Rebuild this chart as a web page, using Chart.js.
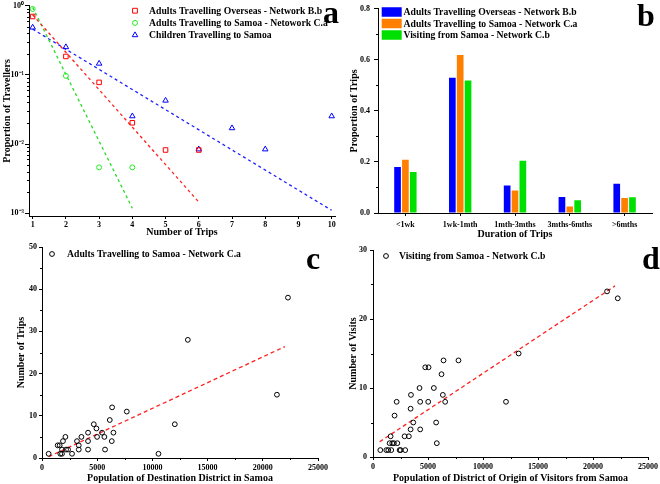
<!DOCTYPE html>
<html lang="en">
<head>
<meta charset="UTF-8">
<title>Travel to and from Samoa</title>
<style>
    body { margin: 0; background: #fff; }
    .panel { position: absolute; }
</style>
</head>
<body>
<canvas id="chartA" class="panel" style="left:0px;top:0px" width="340" height="240"></canvas>
<canvas id="chartB" class="panel" style="left:330px;top:0px" width="330" height="240"></canvas>
<canvas id="chartC" class="panel" style="left:0px;top:240px" width="330" height="244"></canvas>
<canvas id="chartD" class="panel" style="left:330px;top:240px" width="330" height="244"></canvas>
<script src="https://cdn.jsdelivr.net/npm/chart.js"></script>
<script>
// ---- panel a: proportion of travellers by number of trips
const tripsA = [1, 2, 3, 4, 5, 6, 7, 8, 9, 10];
const overseasB = [0.70, 0.185, 0.078, 0.0203, 0.0082, 0.0082, null, null, null, null];
const toSamoaCa = [0.90, 0.097, 0.0046, 0.0046, null, null, null, null, null, null];
const childrenSamoa = [0.486, 0.253, 0.146, 0.0253, 0.0426, 0.0084, 0.017, 0.0084, null, 0.0253];
// fitted lines, end points
const fitOverseasX = [1, 6];
const fitOverseasY = [0.74, 0.00145];
const fitToSamoaX = [1, 4];
const fitToSamoaY = [0.95, 0.00118];
const fitChildrenX = [1, 10];
const fitChildrenY = [0.46, 0.0011];
const seriesNamesA = ['Adults Travelling Overseas - Network B.b', 'Adults Travelling to Samoa - Netowork C.a', 'Children Travelling to Samoa'];
const logTicksA = [0.001, 0.01, 0.1, 1];
const logLabelsA = ['10\u207B\u00B3', '10\u207B\u00B2', '10\u207B\u00B9', '10\u2070'];

// ---- panel b: duration of trips
const durations = ['<1wk', '1wk-1mth', '1mth-3mths', '3mths-6mths', '>6mths'];
const durOverseasB = [0.180, 0.530, 0.108, 0.063, 0.115];
const durToSamoaCa = [0.209, 0.619, 0.088, 0.025, 0.059];
const durFromSamoaCb = [0.161, 0.519, 0.205, 0.050, 0.062];
const seriesNamesB = ['Adults Travelling Overseas - Network B.b', 'Adults Travelling to Samoa - Network C.a', 'Visiting from Samoa - Network C.b'];
const ticksB = [0, 0.2, 0.4, 0.6, 0.8];

// ---- panel c: trips vs population of destination district
const popC = [600, 1420, 1600, 1660, 1810, 1810, 1900, 2120, 2180, 2360, 2720, 3170, 3330, 3330, 3570, 4170, 4170, 4170, 4690, 4930,
              4990, 5440, 5650, 5710, 6140, 6320, 6350, 6470, 7680, 10550, 12030, 13210, 21280, 22280];
const tripsC = [1, 3, 3, 1, 2, 1, 4, 5, 2, 2, 1, 4, 3, 2, 5, 6, 4, 2, 8, 7,
                5, 6, 5, 2, 9, 4, 12, 6, 11, 1, 8, 28, 15, 38];
const fitCX = [600, 22000];
const fitCY = [0.3, 26.4];

// ---- panel d: visits vs population of district of origin
const popD = [665, 1210, 1390, 1510, 1600, 1660, 1750, 1900, 1960, 2150, 2210, 2420, 2510, 2870, 2930, 3260, 3420, 3420, 3450, 3660,
              4230, 4290, 4290, 4750, 5050, 5020, 5530, 5740, 5800, 6230, 6350, 6410, 6560, 7770, 12090, 13240, 21280, 22250];
const visitsD = [1, 1, 1, 2, 3, 1, 2, 2, 6, 8, 2, 1, 1, 3, 1, 3, 7, 4, 9, 5,
                 10, 8, 4, 13, 13, 8, 10, 5, 2, 12, 9, 14, 8, 14, 8, 15, 24, 23];
const fitDX = [600, 22000];
const fitDY = [2.2, 24.8];

const popTicks = [0, 5000, 10000, 15000, 20000, 25000];

Chart.defaults.font.family = '"Liberation Serif", "Times New Roman", serif';
Chart.defaults.font.weight = 'bold';
Chart.defaults.color = '#000';

function pts(xs, ys) {
    return xs.map((x, i) => ({ x: x, y: ys[i] })).filter(p => p.y !== null);
}

function axis(o) {
    const a = {
        type: o.type || 'linear',
        min: o.min,
        max: o.max,
        afterFit: s => { if (s.isHorizontal()) s.height = o.size; else s.width = o.size; },
        grid: { drawOnChartArea: false, tickLength: o.tl, color: '#000', offset: false },
        border: { display: true, color: '#000', width: 1 },
        ticks: { padding: o.pad, font: { size: 8, weight: 'bold' }, color: '#000', autoSkip: false, maxRotation: 0 },
        title: { display: true, text: o.title, font: { size: 10, weight: 'bold' }, color: '#000', padding: o.tpad }
    };
    if (o.ticks) a.afterBuildTicks = s => { s.ticks = o.ticks.map(v => ({ value: v })); };
    if (o.cb) a.ticks.callback = o.cb;
    return a;
}

function marker(ctx, style, x, y, r) {
    ctx.beginPath();
    if (style === 'rect') {
        ctx.rect(x - r * 0.75, y - r * 0.75, r * 1.5, r * 1.5);
    } else if (style === 'triangle') {
        ctx.moveTo(x, y - r);
        ctx.lineTo(x + r * 0.87, y + r * 0.5);
        ctx.lineTo(x - r * 0.87, y + r * 0.5);
        ctx.closePath();
    } else {
        ctx.arc(x, y, r, 0, Math.PI * 2);
    }
    ctx.stroke();
}

// minor ticks, legend and panel letter
const deco = {
    id: 'deco',
    afterDraw(chart, args, o) {
        const ctx = chart.ctx;
        ctx.save();
        ctx.strokeStyle = '#000';
        ctx.lineWidth = 1;
        (o.minor || []).forEach(m => {
            const s = chart.scales[m.axis];
            m.values.forEach(v => {
                const p = Math.round(s.getPixelForValue(v)) + 0.5;
                ctx.beginPath();
                if (s.isHorizontal()) { ctx.moveTo(p, s.top); ctx.lineTo(p, s.top + m.len); }
                else { ctx.moveTo(s.right, p); ctx.lineTo(s.right - m.len, p); }
                ctx.stroke();
            });
        });
        const lg = o.legend;
        ctx.font = 'bold 9.7px "Liberation Serif", "Times New Roman", serif';
        ctx.textBaseline = 'middle';
        ctx.textAlign = 'left';
        chart.data.datasets.filter(d => d.label).forEach((d, i) => {
            const y = lg.y + i * lg.dy;
            if (lg.box) {
                ctx.fillStyle = d.backgroundColor;
                ctx.fillRect(lg.mx, y - 4.75, 20, 9.5);
            } else {
                ctx.strokeStyle = d.borderColor;
                marker(ctx, d.pointStyle, lg.mx, y, d.pointRadius);
            }
            ctx.fillStyle = '#000';
            ctx.fillText(d.label, lg.tx, y + 0.5);
        });
        ctx.font = 'bold 32px "Liberation Serif", "Times New Roman", serif';
        ctx.textBaseline = 'alphabetic';
        ctx.fillText(o.letter[0], o.letter[1], o.letter[2]);
        ctx.restore();
    }
};

const common = {
    responsive: false,
    animation: false,
    events: [],
    plugins: { legend: { display: false }, tooltip: { enabled: false } }
};

function scatterSet(label, data, color, style, r) {
    return { label: label, data: data, borderColor: color, backgroundColor: 'rgba(0,0,0,0)',
             pointStyle: style, pointRadius: r, borderWidth: 1, showLine: false };
}
function fitSet(data, color, dash) {
    return { data: data, borderColor: color, borderWidth: 1.3, borderDash: dash, pointRadius: 0,
             showLine: true, fill: false };
}

// minor tick values for the log axis
const logMinor = [];
[0.001, 0.01, 0.1].forEach(d => { for (let k = 2; k <= 9; k++) logMinor.push(d * k); });

new Chart(document.getElementById('chartA'), {
    type: 'scatter',
    data: {
        datasets: [
            scatterSet(seriesNamesA[0], pts(tripsA, overseasB), '#ff0000', 'rect', 3.2),
            scatterSet(seriesNamesA[1], pts(tripsA, toSamoaCa), '#22ee22', 'circle', 2.5),
            scatterSet(seriesNamesA[2], pts(tripsA, childrenSamoa), '#0000ff', 'triangle', 3.2),
            fitSet(pts(fitOverseasX, fitOverseasY), '#ff2020', [3, 3]),
            fitSet(pts(fitToSamoaX, fitToSamoaY), '#22dd22', [3, 3]),
            fitSet(pts(fitChildrenX, fitChildrenY), '#2020ff', [3, 3])
        ]
    },
    options: Object.assign({}, common, {
        layout: { padding: { left: 0, right: 5, top: 5, bottom: 0 } },
        scales: {
            x: axis({ min: 0.89, max: 10.1, size: 24, tl: 3, pad: 1, ticks: tripsA,
                      title: 'Number of Trips', tpad: { top: 0, bottom: 2 } }),
            y: axis({ type: 'logarithmic', min: 0.00091, max: 1, size: 29, tl: 4, pad: 1, ticks: logTicksA,
                      cb: v => logLabelsA[logTicksA.indexOf(v)],
                      title: 'Proportion of Travellers', tpad: { top: 1, bottom: 0 } })
        },
        plugins: Object.assign({}, common.plugins, {
            deco: { minor: [{ axis: 'y', values: logMinor, len: 2 }],
                    legend: { mx: 135, tx: 149, y: 10.7, dy: 12.2 },
                    letter: ['a', 323, 23] }
        })
    }),
    plugins: [deco]
});

new Chart(document.getElementById('chartB'), {
    type: 'bar',
    data: {
        labels: durations,
        datasets: [
            { label: seriesNamesB[0], data: durOverseasB, backgroundColor: '#0000ff' },
            { label: seriesNamesB[1], data: durToSamoaCa, backgroundColor: '#ff8000' },
            { label: seriesNamesB[2], data: durFromSamoaCb, backgroundColor: '#00e000' }
        ]
    },
    options: Object.assign({}, common, {
        layout: { padding: { left: 0, right: 8, top: 6, bottom: 0 } },
        datasets: { bar: { categoryPercentage: 0.43, barPercentage: 0.85, borderWidth: 0 } },
        scales: {
            x: axis({ type: 'category', size: 27, tl: 3, pad: 4,
                      title: 'Duration of Trips', tpad: { top: 0, bottom: 0 } }),
            y: axis({ min: 0, max: 0.8, size: 48, tl: 4, pad: 4, ticks: ticksB,
                      cb: v => v.toFixed(1),
                      title: 'Proportion of Trips', tpad: { top: 18, bottom: 0 } })
        },
        plugins: Object.assign({}, common.plugins, {
            deco: { minor: [{ axis: 'y', values: [0.1, 0.3, 0.5, 0.7], len: 2 }],
                    legend: { mx: 51.7, tx: 73.5, y: 12, dy: 11.5, box: true },
                    letter: ['b', 307, 26] }
        })
    }),
    plugins: [deco]
});

function popChart(id, label, xs, ys, fx, fy, yMax, yTicks, yMinor, yTitle, xTitle, lay) {
    new Chart(document.getElementById(id), {
        type: 'scatter',
        data: {
            datasets: [
                scatterSet(label, pts(xs, ys), '#000000', 'circle', 2.4),
                fitSet(pts(fx, fy), '#ff2020', [4, 3])
            ]
        },
        options: Object.assign({}, common, {
            layout: { padding: { left: 0, right: lay.right, top: lay.top, bottom: 0 } },
            scales: {
                x: axis({ min: 0, max: 25000, size: lay.xh, tl: 3, pad: 2, ticks: popTicks, cb: v => String(v),
                          title: xTitle, tpad: { top: 0, bottom: 0 } }),
                y: axis({ min: 0, max: yMax, size: lay.yw, tl: 3, pad: lay.ypad, ticks: yTicks, cb: v => String(v),
                          title: yTitle, tpad: { top: lay.ytp, bottom: 0 } })
            },
            plugins: Object.assign({}, common.plugins, {
                deco: { minor: [{ axis: 'y', values: yMinor, len: 2 },
                                { axis: 'x', values: [2500, 7500, 12500, 17500, 22500], len: 2 }],
                        legend: { mx: lay.mx, tx: lay.tx, y: lay.ly, dy: 12 },
                        letter: lay.letter }
            })
        }),
        plugins: [deco]
    });
}

popChart('chartC', 'Adults Travelling to Samoa - Network C.a', popC, tripsC, fitCX, fitCY,
         50, [0, 10, 20, 30, 40, 50], [5, 15, 25, 35, 45],
         'Number of Trips', 'Population of Destination District in Samoa',
         { right: 12, top: 7, xh: 26, yw: 42, ypad: 2, ytp: 15.7, mx: 52, tx: 67, ly: 14, letter: ['c', 306, 29] });

popChart('chartD', 'Visiting from Samoa - Network C.b', popD, visitsD, fitDX, fitDY,
         30, [0, 10, 20, 30], [5, 15, 25],
         'Number of Visits', 'Population of District of Origin of Visitors from Samoa',
         { right: 11, top: 10, xh: 27, yw: 43, ypad: 3, ytp: 17, mx: 56, tx: 69, ly: 16, letter: ['d', 312, 29] });
</script>
</body>
</html>
